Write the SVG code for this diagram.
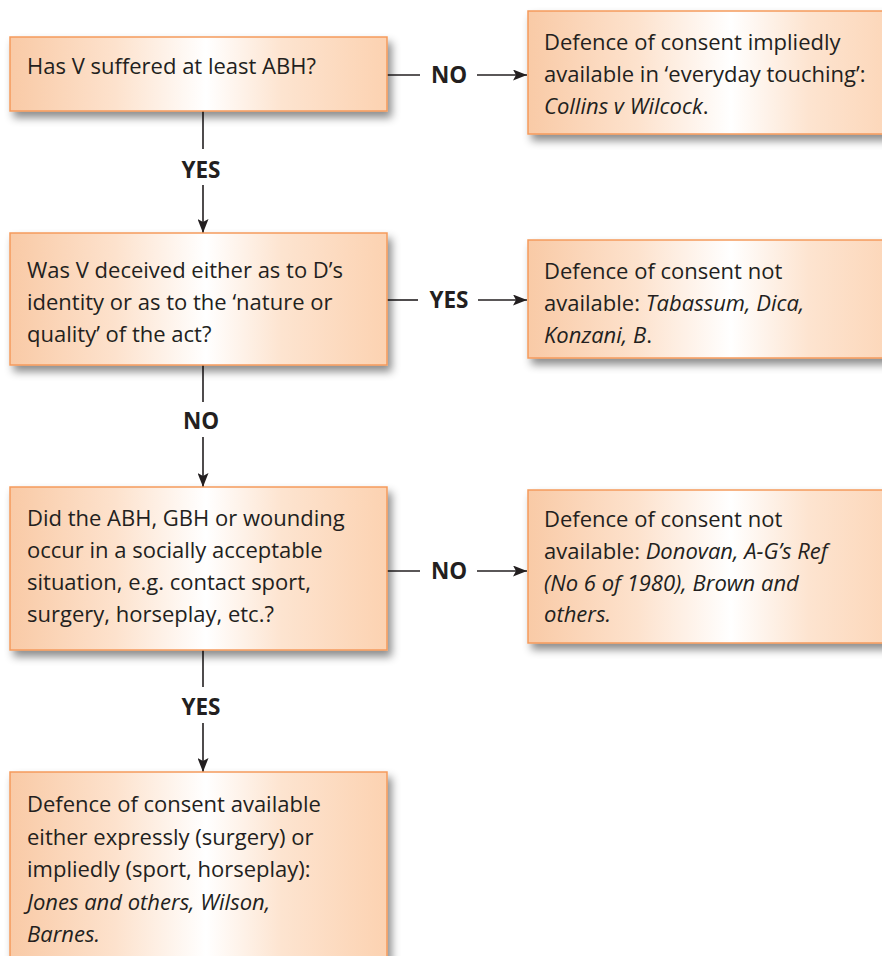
<svg xmlns="http://www.w3.org/2000/svg" width="882" height="956" viewBox="0 0 882 956">
  <style>
    .box { fill: url(#peach); stroke: #f59a5c; stroke-width: 1.5; filter: url(#shadow); }
    .txt { font-family: "Open Sans", "Liberation Sans", sans-serif; font-size: 22px; fill: #231f20; }
    .it { font-style: italic; }
    .lbl { font-family: "Open Sans", "Liberation Sans", sans-serif; font-size: 22.5px; font-weight: bold; fill: #231f20; text-anchor: middle; }
    .ln { stroke: #231f20; stroke-width: 1.6; fill: none; }
    .arr { stroke: #231f20; stroke-width: 1.6; fill: none; marker-end: url(#head); }
  </style>
  <defs>
    <linearGradient id="peach" x1="0" y1="0" x2="1" y2="0">
      <stop offset="0" stop-color="#f9caa6"/>
      <stop offset="0.28" stop-color="#fde2cd"/>
      <stop offset="0.52" stop-color="#ffffff"/>
      <stop offset="0.72" stop-color="#fde4d0"/>
      <stop offset="1" stop-color="#fcd2b1"/>
    </linearGradient>
    <filter id="shadow" x="-10%" y="-20%" width="130%" height="150%">
      <feDropShadow dx="4" dy="6" stdDeviation="4" flood-color="#000" flood-opacity="0.45"/>
    </filter>
    <marker id="head" viewBox="0 0 14 11" refX="14" refY="5.5" markerWidth="14" markerHeight="11" markerUnits="userSpaceOnUse" orient="auto">
      <path d="M0,0 L14,5.5 L0,11 L3,5.5 Z" fill="#231f20"/>
    </marker>
  </defs>

  <g id="connectors">
    <!-- Q1 -> NO -> everyday touching -->
    <line class="ln" x1="387" y1="75" x2="420" y2="75"/>
    <text class="lbl" x="449" y="83">NO</text>
    <line class="arr" x1="477" y1="75" x2="527" y2="75"/>
    <!-- Q1 -> YES -> Q2 -->
    <line class="ln" x1="203" y1="111" x2="203" y2="149"/>
    <text class="lbl" x="201" y="178">YES</text>
    <line class="arr" x1="203" y1="185" x2="203" y2="233"/>
    <!-- Q2 -> YES -> not available -->
    <line class="ln" x1="387" y1="300" x2="418" y2="300"/>
    <text class="lbl" x="449" y="308">YES</text>
    <line class="arr" x1="478" y1="300" x2="527" y2="300"/>
    <!-- Q2 -> NO -> Q3 -->
    <line class="ln" x1="203" y1="365" x2="203" y2="402"/>
    <text class="lbl" x="201" y="429">NO</text>
    <line class="arr" x1="203" y1="437" x2="203" y2="487"/>
    <!-- Q3 -> NO -> not available -->
    <line class="ln" x1="387" y1="571" x2="420" y2="571"/>
    <text class="lbl" x="449" y="579">NO</text>
    <line class="arr" x1="477" y1="571" x2="527" y2="571"/>
    <!-- Q3 -> YES -> available -->
    <line class="ln" x1="203" y1="650" x2="203" y2="687"/>
    <text class="lbl" x="201" y="715">YES</text>
    <line class="arr" x1="203" y1="723" x2="203" y2="772"/>
  </g>

  <g id="q1">
    <rect class="box" x="10" y="37" width="377" height="74"/>
    <text class="txt" x="27" y="74">Has V suffered at least ABH?</text>
  </g>

  <g id="r1">
    <rect class="box" x="528" y="11" width="390" height="123"/>
    <text class="txt" x="544" y="50">Defence of consent impliedly</text>
    <text class="txt" x="544" y="82">available in ‘everyday touching’:</text>
    <text class="txt" x="544" y="114"><tspan class="it">Collins v Wilcock</tspan>.</text>
  </g>

  <g id="q2">
    <rect class="box" x="10" y="233" width="377" height="132"/>
    <text class="txt" x="27" y="278">Was V deceived either as to D’s</text>
    <text class="txt" x="27" y="310">identity or as to the ‘nature or</text>
    <text class="txt" x="27" y="342">quality’ of the act?</text>
  </g>

  <g id="r2">
    <rect class="box" x="528" y="240" width="390" height="118"/>
    <text class="txt" x="544" y="279">Defence of consent not</text>
    <text class="txt" x="544" y="311">available: <tspan class="it">Tabassum, Dica,</tspan></text>
    <text class="txt" x="544" y="343"><tspan class="it">Konzani, B</tspan>.</text>
  </g>

  <g id="q3">
    <rect class="box" x="10" y="487" width="377" height="163"/>
    <text class="txt" x="27" y="526">Did the ABH, GBH or wounding</text>
    <text class="txt" x="27" y="558">occur in a socially acceptable</text>
    <text class="txt" x="27" y="590">situation, e.g. contact sport,</text>
    <text class="txt" x="27" y="622">surgery, horseplay, etc.?</text>
  </g>

  <g id="r3">
    <rect class="box" x="528" y="490" width="390" height="153"/>
    <text class="txt" x="544" y="527">Defence of consent not</text>
    <text class="txt" x="544" y="559">available: <tspan class="it">Donovan, A-G’s Ref</tspan></text>
    <text class="txt" x="544" y="591"><tspan class="it">(No 6 of 1980), Brown and</tspan></text>
    <text class="txt" x="544" y="622"><tspan class="it">others.</tspan></text>
  </g>

  <g id="outcome">
    <rect class="box" x="10" y="772" width="377" height="200"/>
    <text class="txt" x="27" y="812">Defence of consent available</text>
    <text class="txt" x="27" y="845">either expressly (surgery) or</text>
    <text class="txt" x="27" y="877">impliedly (sport, horseplay):</text>
    <text class="txt" x="27" y="910"><tspan class="it">Jones and others, Wilson,</tspan></text>
    <text class="txt" x="27" y="942"><tspan class="it">Barnes.</tspan></text>
  </g>
</svg>
